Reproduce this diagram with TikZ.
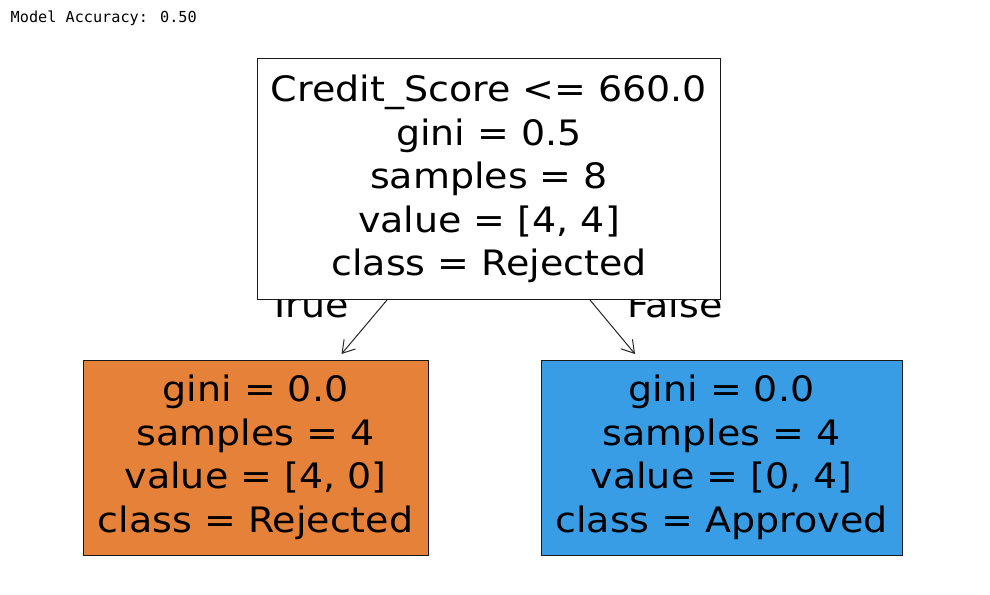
\documentclass[tikz,border=0pt]{standalone}
\usepackage{fontspec}
\setmainfont{DejaVu Sans}[FakeStretch=1.085]
\newfontfamily\monofont{DejaVu Sans Mono}
\usetikzlibrary{arrows.meta}
\definecolor{orangeleaf}{HTML}{E58139}
\definecolor{blueleaf}{HTML}{399DE5}
\tikzset{
  treebox/.style={draw=black!90, line width=1pt, rectangle, align=center, inner sep=0pt,
    font=\fontsize{35}{43.6}\selectfont},
  edgelabel/.style={inner sep=0pt, font=\fontsize{35}{43.6}\selectfont},
  treearrow/.style={draw=black!85, line width=1pt, -{Straight Barb[length=12pt,width=15pt,line width=1pt]}},
}
\begin{document}
\begin{tikzpicture}[x=1pt,y=-1pt]
\useasboundingbox (0,0) rectangle (990,594);
\node[anchor=base west, inner sep=0pt, font=\monofont\fontsize{15.2}{18}\selectfont] (acc) at (10.5,22.7) {Model Accuracy: 0.50};
% edge labels (drawn first, partly covered by root box)
\node[edgelabel, anchor=base east] (truelbl) at (349,317.5) {True};
\node[edgelabel, anchor=base west] (falselbl) at (627,317.5) {False};
% nodes
\node[treebox, fill=white, minimum width=463.5pt, minimum height=241pt] (root) at (489,179)
  {Credit\_Score <= 660.0\\gini = 0.5\\samples = 8\\value = [4, 4]\\class = Rejected};
\node[treebox, fill=orangeleaf, minimum width=345pt, minimum height=195pt] (left) at (255.5,457.5)
  {gini = 0.0\\samples = 4\\value = [4, 0]\\class = Rejected};
\node[treebox, fill=blueleaf, minimum width=361pt, minimum height=195pt] (right) at (721.5,457.5)
  {gini = 0.0\\samples = 4\\value = [0, 4]\\class = Approved};
% connectors
\coordinate (ls) at ([xshift=-102pt]root.south);
\coordinate (rs) at ([xshift=101pt]root.south);
\coordinate (le) at ([xshift=86pt,yshift=5.5pt]left.north);
\coordinate (re) at ([xshift=-86.5pt,yshift=5.5pt]right.north);
\draw[treearrow] (ls) -- (le);
\draw[treearrow] (rs) -- (re);
\end{tikzpicture}
\end{document}
